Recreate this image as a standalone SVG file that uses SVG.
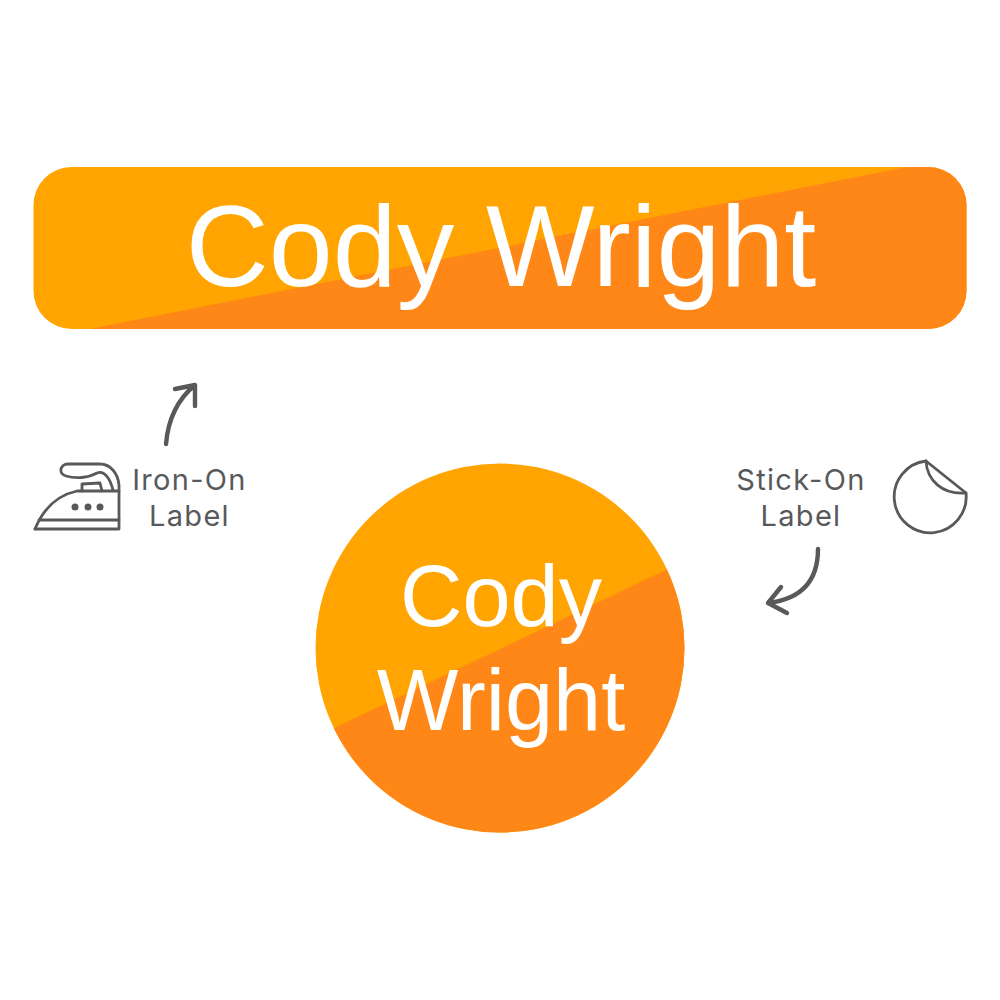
<svg xmlns="http://www.w3.org/2000/svg" width="1000" height="1000" viewBox="0 0 1000 1000">
<style>
.name{font-family:"Liberation Sans",Arial,sans-serif;fill:#fff;text-anchor:middle}
.cap{font-family:"Inter","Liberation Sans",sans-serif;font-size:29px;letter-spacing:1.3px;fill:#58595b;text-anchor:middle}
.ln{fill:none;stroke:#58595b;stroke-width:2.8;stroke-linecap:round;stroke-linejoin:round}
.ar{fill:none;stroke:#58595b;stroke-width:4.4;stroke-linecap:round;stroke-linejoin:round}
</style>
<defs>
<clipPath id="rc"><rect x="33.5" y="167" width="933" height="162" rx="38"/></clipPath>
<clipPath id="cc"><circle cx="500" cy="648" r="184.5"/></clipPath>
</defs>
<rect width="1000" height="1000" fill="#fff"/>
<g id="rect-label">
<g clip-path="url(#rc)">
<rect x="33" y="167" width="934" height="162" fill="#ffa400"/>
<polygon points="90,329 907,167 975,161 975,335 90,335" fill="#ff8717"/>
</g>
<text class="name" x="501" y="286" font-size="115">Cody Wright</text>
</g>
<g id="round-label">
<g clip-path="url(#cc)">
<rect x="310" y="460" width="380" height="380" fill="#ffa400"/>
<polygon points="330,730 670,568 700,568 700,840 330,840" fill="#ff8717"/>
</g>
<text class="name" x="501" y="626" font-size="86.5">Cody</text>
<text class="name" x="501" y="730" font-size="86.5">Wright</text>
</g>
<g id="iron-on">
<g class="ln">
<path d="M35 529L119 529L119 485C118 473 110 464 100 464L68 464C60 464 58 474 66 476C76 479 88 478 97 473C104 470 110 478 113 490"/>
<path d="M35 529C42 512 54 496 77 491L119 491"/>
<path d="M39 520L119 520"/>
<path d="M82 491L82 484L100 483L102 491"/>
</g>
<g fill="#58595b"><circle cx="75" cy="507" r="3.5"/><circle cx="88" cy="507" r="3.5"/><circle cx="100" cy="507" r="3.5"/></g>
<text class="cap" x="189.500" y="490">Iron-On</text>
<text class="cap" x="189.500" y="526">Label</text>
</g>
<g id="stick-on">
<g class="ln">
<path d="M926 461A36 36 0 1 0 966 493Z"/>
<path d="M926 461C927 480 942 495 966 493"/>
</g>
<text class="cap" x="801" y="490">Stick-On</text>
<text class="cap" x="801" y="526">Label</text>
</g>
<g id="connectors">
<path class="ar" d="M166 444C168 420 178 399 195 385M175 389L195 385L195 406"/>
<path class="ar" d="M818 549C818 580 802 599 768 603M781 587L768 603L787 613"/>
</g>
</svg>
